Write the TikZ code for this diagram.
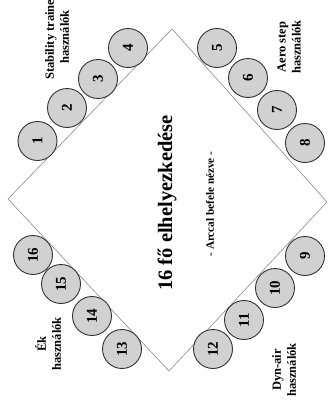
\documentclass[tikz,border=0pt]{standalone}
\usepackage{fontspec}
\setmainfont{Liberation Serif}
\begin{document}
\begin{tikzpicture}[x=1pt,y=-1pt,
  seat/.style={circle,draw=black!80,line width=0.9pt,fill=black!18,minimum size=39pt,inner sep=0pt,font=\fontsize{15}{15}\selectfont\bfseries,rotate=90},
  grp/.style={rotate=90,align=center,font=\fontsize{12.5}{15}\selectfont\bfseries,inner sep=0pt},
  edge/.style={draw=black!45,line width=0.6pt}]
\useasboundingbox (0,0) rectangle (329,407);
\fill[white] (0,0) rectangle (329,407);
\coordinate (T) at (172,29);
\coordinate (L) at (8,199);
\coordinate (B) at (169,371);
\coordinate (R) at (327,202);
\draw[edge] (T) -- (R) -- (B) -- (L) -- cycle;
\node[seat] (c1) at (37.5,141) {1};
\node[seat] (c2) at (67,108) {2};
\node[seat] (c3) at (98,79) {3};
\node[seat] (c4) at (128,48) {4};
\node[seat] (c5) at (217,48) {5};
\node[seat] (c6) at (248,78) {6};
\node[seat] (c7) at (277,110) {7};
\node[seat] (c8) at (305,143) {8};
\node[seat] (c9) at (305,256) {9};
\node[seat] (c10) at (275,288) {10};
\node[seat] (c11) at (244,320) {11};
\node[seat] (c12) at (213,349) {12};
\node[seat] (c13) at (122,349) {13};
\node[seat] (c14) at (92,316) {14};
\node[seat] (c15) at (61,284) {15};
\node[seat] (c16) at (33,255) {16};
\node[grp] (g1) at (57,37) {Stability trainer\\használók};
\node[grp] (g2) at (289,47) {Aero step\\használók};
\node[grp] (g3) at (48,344) {Ék\\használók};
\node[grp] (g4) at (284,370) {Dyn-air\\használók};
\node[rotate=90,font=\fontsize{20.5}{20.5}\selectfont\bfseries] (title) at (167,203) {16 fő elhelyezkedése};
\node[rotate=90,font=\fontsize{11.2}{11.2}\selectfont\bfseries] (sub) at (210,204) {- Arccal befele nézve -};
\end{tikzpicture}
\end{document}
